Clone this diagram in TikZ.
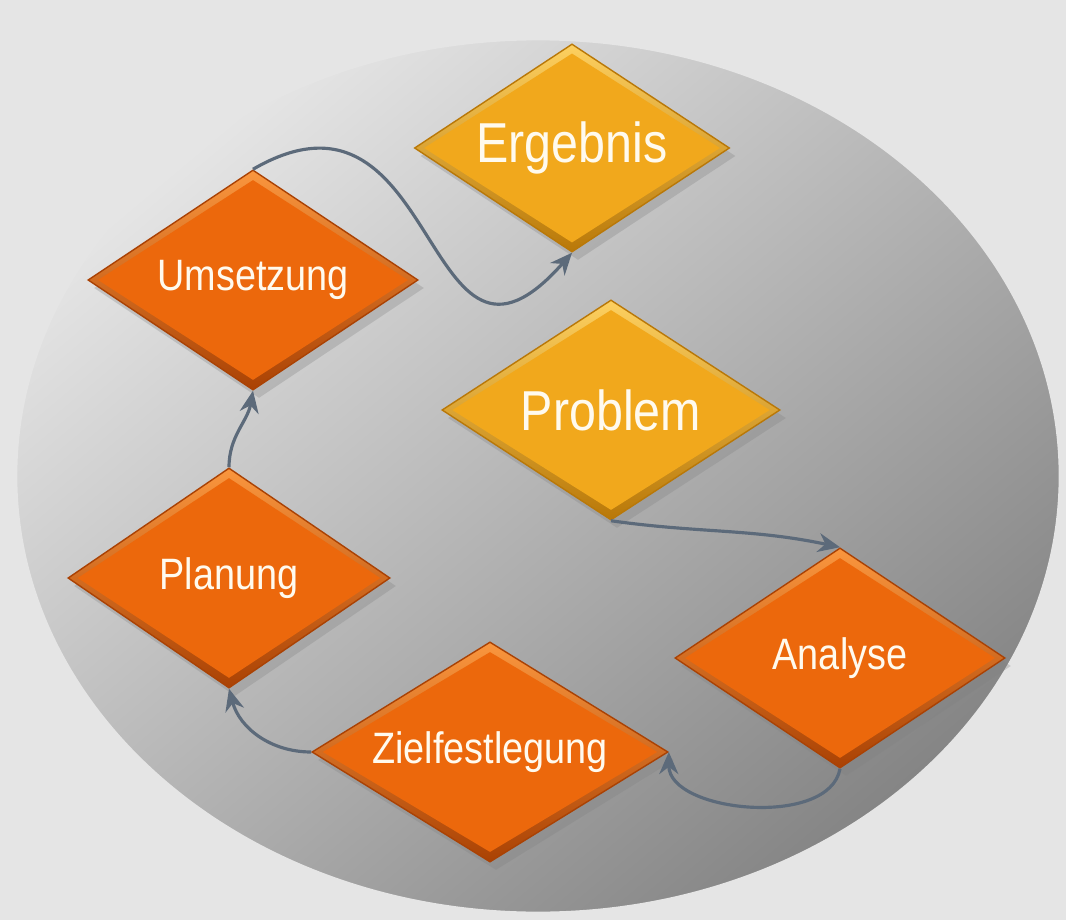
\documentclass[tikz,border=0pt]{standalone}
\usepackage{fontspec}
\newfontfamily\schrift[FakeStretch=0.86]{Liberation Sans}
\usetikzlibrary{shapes.geometric,arrows.meta,shadows,calc}

\definecolor{hgrund}{RGB}{229,229,229}
\definecolor{orangehell}{RGB}{250,150,62}
\definecolor{orangemitte}{RGB}{236,104,12}
\definecolor{orangedunkel}{RGB}{170,66,4}
\definecolor{goldhell}{RGB}{253,208,96}
\definecolor{goldmitte}{RGB}{241,168,28}
\definecolor{golddunkel}{RGB}{185,120,8}
\definecolor{linie}{RGB}{92,106,122}
\definecolor{textweiss}{RGB}{255,250,238}

% inner face of a bevelled diamond
\newcommand\innenraute[1]{%
  \coordinate (pc) at (path picture bounding box.center);
  \fill[#1] ($(path picture bounding box.north)!.09!(pc)$)
    -- ($(path picture bounding box.east)!.06!(pc)$)
    -- ($(path picture bounding box.south)!.09!(pc)$)
    -- ($(path picture bounding box.west)!.06!(pc)$) -- cycle;}

\tikzset{
  raute/.style={diamond, aspect=1.6, minimum width=3.3cm, minimum height=2.2cm, inner sep=0pt,
    text=textweiss, font=\schrift\fontsize{12.5}{14}\selectfont,
    drop shadow={opacity=.3, shadow xshift=.6mm, shadow yshift=-.8mm}},
  orangeraute/.style={raute, draw=orangedunkel, line width=.4pt,
    top color=orangehell, bottom color=orangedunkel,
    path picture={\innenraute{orangemitte}}},
  goldraute/.style={raute, draw=golddunkel, line width=.4pt,
    top color=goldhell, bottom color=golddunkel,
    path picture={\innenraute{goldmitte}}, font=\schrift\fontsize{16}{18}\selectfont},
  pfeil/.style={draw=linie, line width=.9pt, -{Stealth[length=2.2mm,width=1.9mm]}}
}

\begin{document}
\begin{tikzpicture}[x=0.01cm, y=0.01cm]
    \useasboundingbox (0,0) rectangle (1066,920);
    \fill[hgrund] (0,0) rectangle (1066,920);
    \shade[top color=black!10, bottom color=black!48, shading angle=40]
        (538,444) ellipse [x radius=5.23cm, y radius=4.38cm];
    \draw[white!80!gray, line width=1.5pt] (538,444) ellipse [x radius=5.23cm, y radius=4.38cm];

    \node[goldraute, minimum width=3.15cm, minimum height=2.08cm] (ergebnis) at (572,772) {Ergebnis};
    \node[orangeraute] (umsetzung) at (253,640) {Umsetzung};
    \node[goldraute, minimum width=3.38cm] (problem) at (611,510) {Problem};
    \node[orangeraute, minimum width=3.22cm] (planung) at (229,342) {Planung};
    \node[orangeraute] (analyse) at (840,262) {Analyse};
    \node[orangeraute, minimum width=3.56cm] (ziel) at (490,168) {Zielfestlegung};

    \draw[pfeil] (problem.south) to[out=-8, in=168] (analyse.north);
    \draw[pfeil] (analyse.south) to[out=-100, in=-90, looseness=.9] (ziel.east);
    \draw[pfeil] (ziel.west) to[out=180, in=-75] (planung.south);
    \draw[pfeil] (planung.north) to[out=90, in=-100] (umsetzung.south);
    \draw[pfeil] (umsetzung.north) .. controls +(190,110) and +(-150,-170) .. (ergebnis.south);
\end{tikzpicture}
\end{document}
